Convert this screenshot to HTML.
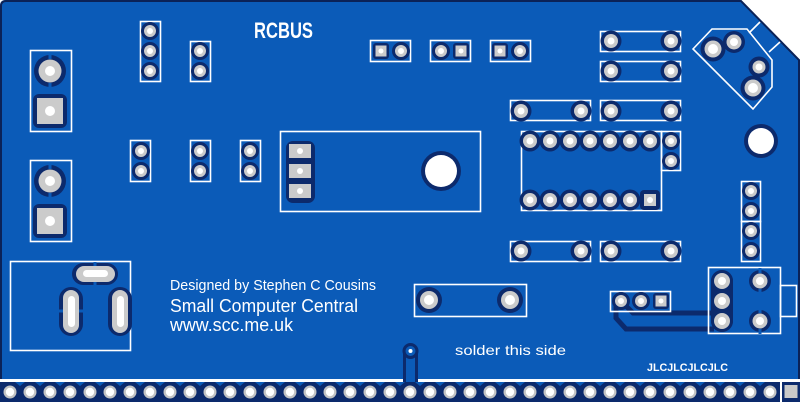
<!DOCTYPE html>
<html><head><meta charset="utf-8">
<style>html,body{margin:0;padding:0;background:#fff}svg{display:block}</style>
</head><body>
<svg width="802" height="402" viewBox="0 0 802 402" xmlns="http://www.w3.org/2000/svg">
<defs>
  <g id="pS"><circle r="9" fill="#0c2a6c"/><circle r="6" fill="#cbcbcb"/><circle r="3" fill="#fff"/></g>
  <g id="pM"><circle r="10.5" fill="#0c2a6c"/><circle r="7" fill="#cbcbcb"/><circle r="3.5" fill="#fff"/></g>
  <g id="pL"><circle r="13" fill="#0c2a6c"/><circle r="9" fill="#cbcbcb"/><circle r="5" fill="#fff"/></g>
  <g id="sq"><rect x="-8" y="-8" width="16" height="16" rx="3" fill="#0c2a6c"/><rect x="-5.5" y="-5.5" width="11" height="11" fill="#cbcbcb"/><circle r="2.5" fill="#fff"/></g>
  <g id="bp"><circle r="6.5" fill="#c4c4c4"/><circle r="4.2" fill="#fff"/></g>
</defs>

<!-- board -->
<path d="M0,379 L0,6 Q0,0 6,0 L741,0 L800,60 L800,379 Z" fill="#0b5bb8"/>
<path d="M1,379 L1,6 Q1,1 6,1 L741,1 L799,60 L799,379" fill="none" stroke="#0b2257" stroke-width="2"/>

<!-- bottom connector strip -->
<rect x="0" y="382" width="780" height="20" fill="#0c2a6c"/>
<g fill="#0b5bb8">
<path d="M15,382h10l-5,4z"/><path d="M35,382h10l-5,4z"/><path d="M55,382h10l-5,4z"/><path d="M75,382h10l-5,4z"/><path d="M95,382h10l-5,4z"/><path d="M115,382h10l-5,4z"/><path d="M135,382h10l-5,4z"/><path d="M155,382h10l-5,4z"/><path d="M175,382h10l-5,4z"/><path d="M195,382h10l-5,4z"/><path d="M215,382h10l-5,4z"/><path d="M235,382h10l-5,4z"/><path d="M255,382h10l-5,4z"/><path d="M275,382h10l-5,4z"/><path d="M295,382h10l-5,4z"/><path d="M315,382h10l-5,4z"/><path d="M335,382h10l-5,4z"/><path d="M355,382h10l-5,4z"/><path d="M375,382h10l-5,4z"/><path d="M395,382h10l-5,4z"/><path d="M415,382h10l-5,4z"/><path d="M435,382h10l-5,4z"/><path d="M455,382h10l-5,4z"/><path d="M475,382h10l-5,4z"/><path d="M495,382h10l-5,4z"/><path d="M515,382h10l-5,4z"/><path d="M535,382h10l-5,4z"/><path d="M555,382h10l-5,4z"/><path d="M575,382h10l-5,4z"/><path d="M595,382h10l-5,4z"/><path d="M615,382h10l-5,4z"/><path d="M635,382h10l-5,4z"/><path d="M655,382h10l-5,4z"/><path d="M675,382h10l-5,4z"/><path d="M695,382h10l-5,4z"/><path d="M715,382h10l-5,4z"/><path d="M735,382h10l-5,4z"/><path d="M755,382h10l-5,4z"/>
</g>
<g>
<use href="#bp" x="10" y="392"/><use href="#bp" x="30" y="392"/><use href="#bp" x="50" y="392"/><use href="#bp" x="70" y="392"/><use href="#bp" x="90" y="392"/><use href="#bp" x="110" y="392"/><use href="#bp" x="130" y="392"/><use href="#bp" x="150" y="392"/><use href="#bp" x="170" y="392"/><use href="#bp" x="190" y="392"/><use href="#bp" x="210" y="392"/><use href="#bp" x="230" y="392"/><use href="#bp" x="250" y="392"/><use href="#bp" x="270" y="392"/><use href="#bp" x="290" y="392"/><use href="#bp" x="310" y="392"/><use href="#bp" x="330" y="392"/><use href="#bp" x="350" y="392"/><use href="#bp" x="370" y="392"/><use href="#bp" x="390" y="392"/><use href="#bp" x="410" y="392"/><use href="#bp" x="430" y="392"/><use href="#bp" x="450" y="392"/><use href="#bp" x="470" y="392"/><use href="#bp" x="490" y="392"/><use href="#bp" x="510" y="392"/><use href="#bp" x="530" y="392"/><use href="#bp" x="550" y="392"/><use href="#bp" x="570" y="392"/><use href="#bp" x="590" y="392"/><use href="#bp" x="610" y="392"/><use href="#bp" x="630" y="392"/><use href="#bp" x="650" y="392"/><use href="#bp" x="670" y="392"/><use href="#bp" x="690" y="392"/><use href="#bp" x="710" y="392"/><use href="#bp" x="730" y="392"/><use href="#bp" x="750" y="392"/><use href="#bp" x="770" y="392"/>
</g>
<rect x="782" y="382" width="18" height="20" fill="#0c2a6c"/>
<rect x="784.5" y="385" width="13" height="13" fill="#c9c9c9"/>

<!-- via + trace to strip -->
<rect x="403" y="351" width="15" height="31" fill="#0c2a6c"/>
<rect x="406" y="351" width="9" height="31" fill="#0b5bb8"/>
<circle cx="410.5" cy="351" r="8" fill="#0c2a6c"/>
<circle cx="410.5" cy="351" r="5" fill="#0b5bb8"/>
<circle cx="410.5" cy="351" r="2" fill="#fff"/>

<!-- traces near 3-pin -->
<path d="M621,301 L633,313 L712,313" fill="none" stroke="#0c2a6c" stroke-width="5"/>
<path d="M616,303 L616,318 L626,329 L714,329" fill="none" stroke="#0c2a6c" stroke-width="5"/>

<!-- silkscreen rects -->
<g fill="none" stroke="#fff" stroke-width="1.6">
<rect x="30.5" y="50.5" width="41" height="81"/>
<rect x="30.5" y="160.5" width="41" height="81"/>
<rect x="140.5" y="21.5" width="20" height="60"/>
<rect x="190.5" y="41.5" width="20" height="40"/>
<rect x="130.5" y="140.5" width="20" height="41"/>
<rect x="190.5" y="140.5" width="20" height="41"/>
<rect x="240.5" y="140.5" width="20" height="41"/>
<rect x="370.5" y="40.5" width="40" height="21"/>
<rect x="430.5" y="40.5" width="40" height="21"/>
<rect x="490.5" y="40.5" width="40" height="21"/>
<rect x="280.5" y="131.5" width="200" height="80"/>
<rect x="600.5" y="31.5" width="80" height="20"/>
<rect x="600.5" y="61.5" width="80" height="20"/>
<rect x="510.5" y="100.5" width="80" height="20"/>
<rect x="600.5" y="100.5" width="80" height="20"/>
<rect x="521.5" y="131.5" width="140" height="79"/>
<rect x="661.5" y="131.5" width="19" height="39"/>
<rect x="741.5" y="181.5" width="19" height="40"/>
<rect x="741.5" y="221.5" width="19" height="40"/>
<rect x="510.5" y="241.5" width="80" height="20"/>
<rect x="600.5" y="241.5" width="80" height="20"/>
<rect x="414.5" y="284.5" width="112" height="32"/>
<rect x="610.5" y="291.5" width="60" height="20"/>
<rect x="708.5" y="267.5" width="72" height="66"/>
<rect x="780.5" y="285.5" width="16" height="31"/>
<rect x="10.5" y="261.5" width="120" height="89"/>
<path d="M693,49 L712,29 L747,29 L772,60 L772,87 L753,109 Z"/>
<path d="M749,33 L760,22 M769,52 L780,42"/>
</g>

<!-- left power connectors -->
<circle cx="50" cy="71" r="16" fill="#0c2a6c"/>
<rect x="48.5" y="54" width="3" height="5" fill="#0b5bb8"/><rect x="48.5" y="83" width="3" height="5" fill="#0b5bb8"/>
<circle cx="50" cy="71" r="11.5" fill="#cbcbcb"/><circle cx="50" cy="71" r="5" fill="#fff"/>
<rect x="33" y="94" width="34" height="34" rx="6" fill="#0c2a6c"/>
<rect x="37" y="98" width="26" height="26" fill="#cbcbcb"/><circle cx="50" cy="111" r="5" fill="#fff"/>
<circle cx="50" cy="181" r="16" fill="#0c2a6c"/>
<rect x="48.5" y="164" width="3" height="5" fill="#0b5bb8"/><rect x="48.5" y="193" width="3" height="5" fill="#0b5bb8"/>
<circle cx="50" cy="181" r="11.5" fill="#cbcbcb"/><circle cx="50" cy="181" r="5" fill="#fff"/>
<rect x="33" y="204" width="34" height="34" rx="6" fill="#0c2a6c"/>
<rect x="37" y="208" width="26" height="26" fill="#cbcbcb"/><circle cx="50" cy="221" r="5" fill="#fff"/>

<!-- headers -->
<use href="#pS" x="150" y="31"/><use href="#pS" x="150" y="51"/><use href="#pS" x="150" y="71"/>
<use href="#pS" x="200" y="51"/><use href="#pS" x="200" y="71"/>
<use href="#pS" x="141" y="151"/><use href="#pS" x="141" y="171"/>
<use href="#pS" x="200" y="151"/><use href="#pS" x="200" y="171"/>
<use href="#pS" x="250" y="151"/><use href="#pS" x="250" y="171"/>

<use href="#sq" x="381" y="51"/><use href="#pS" x="401" y="51"/>
<use href="#pS" x="441" y="51"/><use href="#sq" x="461" y="51"/>
<use href="#sq" x="500" y="51"/><use href="#pS" x="520" y="51"/>

<!-- regulator -->
<rect x="286" y="141" width="29" height="62" rx="7" fill="#0c2a6c"/>
<rect x="289" y="144" width="22" height="14" fill="#cbcbcb"/><circle cx="300" cy="151" r="3" fill="#fff"/>
<rect x="289" y="164" width="22" height="14" fill="#cbcbcb"/><circle cx="300" cy="171" r="3" fill="#fff"/>
<rect x="289" y="184" width="22" height="14" fill="#cbcbcb"/><circle cx="300" cy="191" r="3" fill="#fff"/>
<circle cx="441" cy="171" r="20" fill="#0c2a6c"/><circle cx="441" cy="171" r="16" fill="#fff"/>

<!-- resistors -->
<use href="#pM" x="611" y="41"/><use href="#pM" x="671" y="41"/>
<use href="#pM" x="611" y="71"/><use href="#pM" x="671" y="71"/>
<use href="#pM" x="521" y="111"/><use href="#pM" x="581" y="111"/>
<use href="#pM" x="611" y="111"/><use href="#pM" x="671" y="111"/>
<use href="#pM" x="521" y="251"/><use href="#pM" x="581" y="251"/>
<use href="#pM" x="611" y="251"/><use href="#pM" x="671" y="251"/>

<!-- IC -->
<use href="#pM" x="530" y="141"/><use href="#pM" x="550" y="141"/><use href="#pM" x="570" y="141"/><use href="#pM" x="590" y="141"/><use href="#pM" x="610" y="141"/><use href="#pM" x="630" y="141"/><use href="#pM" x="650" y="141"/>
<use href="#pM" x="530" y="200"/><use href="#pM" x="550" y="200"/><use href="#pM" x="570" y="200"/><use href="#pM" x="590" y="200"/><use href="#pM" x="610" y="200"/><use href="#pM" x="630" y="200"/>
<rect x="640" y="190" width="20" height="20" rx="4" fill="#0c2a6c"/><rect x="644" y="194" width="12" height="12" fill="#cbcbcb"/><circle cx="650" cy="200" r="3" fill="#fff"/>
<use href="#pS" x="671" y="141"/><use href="#pS" x="671" y="161"/>

<!-- rotated component -->
<circle cx="713" cy="49" r="12.5" fill="#0c2a6c"/><circle cx="734" cy="42" r="11" fill="#0c2a6c"/>
<circle cx="759" cy="67" r="10.5" fill="#0c2a6c"/><circle cx="753" cy="88" r="12.5" fill="#0c2a6c"/>
<circle cx="713" cy="49" r="8.5" fill="#cbcbcb"/><circle cx="713" cy="49" r="5" fill="#fff"/>
<circle cx="734" cy="42" r="7.5" fill="#cbcbcb"/><circle cx="734" cy="42" r="4" fill="#fff"/>
<circle cx="759" cy="67" r="6.5" fill="#cbcbcb"/><circle cx="759" cy="67" r="3.5" fill="#fff"/>
<circle cx="753" cy="88" r="8.5" fill="#cbcbcb"/><circle cx="753" cy="88" r="5" fill="#fff"/>

<circle cx="761" cy="141" r="17" fill="#0c2a6c"/><circle cx="761" cy="141" r="13" fill="#fff"/>

<use href="#pS" x="751" y="191"/><use href="#pS" x="751" y="211"/>
<use href="#pS" x="751" y="231"/><use href="#pS" x="751" y="251"/>

<!-- big 2-pin -->
<use href="#pL" x="429" y="300"/><use href="#pL" x="510" y="300"/>

<!-- 3-pin -->
<use href="#pS" x="621" y="301"/><use href="#pS" x="641" y="301"/><use href="#sq" x="661" y="301"/>

<!-- switch connector -->
<rect x="711" y="270" width="22" height="62" rx="11" fill="#0c2a6c"/>
<circle cx="722" cy="281" r="11" fill="#0c2a6c"/><circle cx="722" cy="301" r="11" fill="#0c2a6c"/><circle cx="722" cy="321" r="11" fill="#0c2a6c"/>
<circle cx="722" cy="281" r="8" fill="#cbcbcb"/><circle cx="722" cy="281" r="4" fill="#fff"/>
<circle cx="722" cy="301" r="8" fill="#cbcbcb"/><circle cx="722" cy="301" r="4" fill="#fff"/>
<circle cx="722" cy="321" r="8" fill="#cbcbcb"/><circle cx="722" cy="321" r="4" fill="#fff"/>
<circle cx="760" cy="281" r="11" fill="#0c2a6c"/><circle cx="760" cy="321" r="11" fill="#0c2a6c"/>
<rect x="758.5" y="268" width="3" height="5" fill="#0b5bb8"/><rect x="758.5" y="289" width="3" height="5" fill="#0b5bb8"/>
<rect x="758.5" y="308" width="3" height="5" fill="#0b5bb8"/><rect x="758.5" y="329" width="3" height="5" fill="#0b5bb8"/>
<circle cx="760" cy="281" r="7.5" fill="#cbcbcb"/><circle cx="760" cy="281" r="4" fill="#fff"/>
<circle cx="760" cy="321" r="7.5" fill="#cbcbcb"/><circle cx="760" cy="321" r="4" fill="#fff"/>

<!-- DC jack pads -->
<rect x="72" y="263" width="46" height="22" rx="11" fill="#0c2a6c"/>
<rect x="76" y="266" width="39" height="16" rx="8" fill="#cbcbcb"/>
<rect x="83" y="270" width="25" height="7" rx="3.5" fill="#fff"/>
<rect x="93.5" y="262" width="3" height="4" fill="#0b5bb8"/><rect x="93.5" y="282" width="3" height="4" fill="#0b5bb8"/>
<rect x="59" y="287" width="24" height="49" rx="12" fill="#0c2a6c"/>
<rect x="63" y="290" width="16" height="43" rx="8" fill="#cbcbcb"/>
<rect x="68" y="296" width="7" height="31" rx="3.5" fill="#fff"/>
<rect x="58" y="309.5" width="5" height="3" fill="#0b5bb8"/><rect x="79" y="309.5" width="5" height="3" fill="#0b5bb8"/>
<rect x="108" y="287" width="24" height="49" rx="12" fill="#0c2a6c"/>
<rect x="112" y="290" width="16" height="43" rx="8" fill="#cbcbcb"/>
<rect x="117" y="296" width="7" height="31" rx="3.5" fill="#fff"/>

<!-- text -->
<g fill="#fff">
<text x="254" y="38" font-family="'Liberation Sans Narrow','Liberation Sans',sans-serif" font-weight="bold" font-size="22" textLength="59" lengthAdjust="spacingAndGlyphs">RCBUS</text>
<text x="170" y="290" font-family="'Liberation Sans',sans-serif" font-size="14.5" textLength="206" lengthAdjust="spacingAndGlyphs">Designed by Stephen C Cousins</text>
<text x="170" y="312" font-family="'Liberation Sans',sans-serif" font-size="18" textLength="188" lengthAdjust="spacingAndGlyphs">Small Computer Central</text>
<text x="170" y="331" font-family="'Liberation Sans',sans-serif" font-size="18" textLength="123" lengthAdjust="spacingAndGlyphs">www.scc.me.uk</text>
<text x="455" y="355" font-family="'Liberation Sans',sans-serif" font-size="14" textLength="111" lengthAdjust="spacingAndGlyphs">solder this side</text>
<text x="647" y="371" font-family="'Liberation Sans',sans-serif" font-weight="bold" font-size="11" textLength="81" lengthAdjust="spacingAndGlyphs">JLCJLCJLCJLC</text>
</g>
</svg>
</body></html>
